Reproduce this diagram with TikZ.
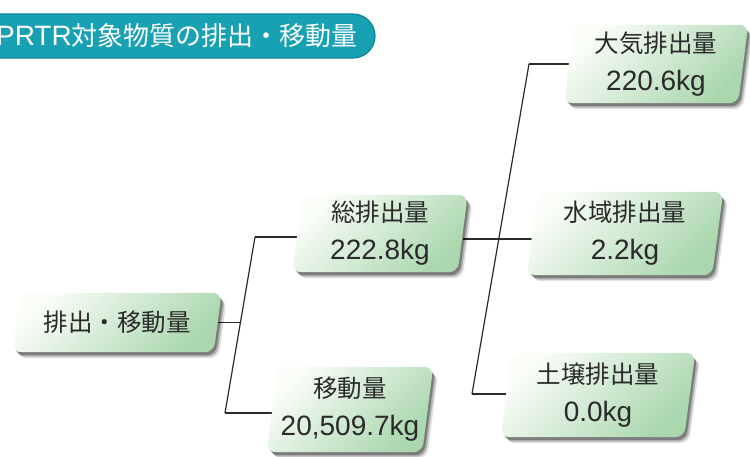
\documentclass[tikz,border=0pt]{standalone}
\usepackage{fontspec}
\newfontfamily\jp{Noto Sans CJK JP}
\newfontfamily\lat{Liberation Sans}
\usetikzlibrary{calc,shadows}
\definecolor{teal1}{HTML}{18A0B3}
\definecolor{teal2}{HTML}{0B8597}
\definecolor{boxg}{HTML}{AAD7AE}
\definecolor{boxw}{HTML}{FAFDF8}
\definecolor{txt}{HTML}{2A2A2A}
\definecolor{ln}{HTML}{2A2A2A}
\pgfdeclarelayer{bg}
\pgfdeclarelayer{mid}
\pgfsetlayers{bg,mid,main}
\newcommand\slbox[2]{%
  \path[boxshape] ($(#1.north west)+(#2,0)$) -- ($(#1.north east)+(#2,0)$)
    -- ($(#1.south east)-(#2,0)$) -- ($(#1.south west)-(#2,0)$) -- cycle;}
\newcommand\numf{\lat\fontsize{28}{38}\selectfont}
\begin{document}
\begin{tikzpicture}[x=1pt,y=-1pt,
  conn/.style={draw=ln, line width=1.2pt},
  txtnode/.style={font=\jp\fontsize{24.5}{38}\selectfont, text=txt, align=center, inner sep=0pt},
  boxshape/.style={rounded corners=9pt, top color=boxw, bottom color=boxg, shading angle=45,
    drop shadow={shadow xshift=5pt, shadow yshift=-6pt, opacity=0.12, fill=black},
    drop shadow={shadow xshift=3.5pt, shadow yshift=-4.5pt, opacity=0.2, fill=black},
    drop shadow={shadow xshift=2pt, shadow yshift=-3pt, opacity=0.3, fill=black}},
  ]
\useasboundingbox (0,0) rectangle (750,456);

% title banner
\fill[teal1, draw=teal2, line width=1.2pt, rounded corners=22pt] (-30,14) rectangle (375,58);
\node[font=\jp\fontsize{26}{30}\selectfont, text=white, anchor=east, inner sep=0pt] (title) at (358,36) {{\lat\fontsize{28}{30}\selectfont PRTR}対象物質の排出・移動量};

% nodes
\node[txtnode, minimum width=201pt, minimum height=59pt] (root) at (117,322.5) {排出・移動量};
\node[txtnode, minimum width=165pt, minimum height=77pt] (total) at (380,233.5) {総排出量\\{\numf 222.8kg}};
\node[txtnode, minimum width=155pt, minimum height=85pt] (move) at (350,409.5) {移動量\\{\numf 20,509.7kg}};
\node[txtnode, minimum width=174pt, minimum height=78pt] (air) at (656,64) {大気排出量\\{\numf 220.6kg}};
\node[txtnode, minimum width=185pt, minimum height=83pt] (water) at (625,233.5) {水域排出量\\{\numf 2.2kg}};
\node[txtnode, minimum width=183pt, minimum height=84pt] (soil) at (598,395) {土壌排出量\\{\numf 0.0kg}};

% junctions
\coordinate (j1t) at (255,237);
\coordinate (j1b) at (225,413);
\coordinate (j1m) at (240.4,322.5);
\coordinate (j2t) at (529,64);
\coordinate (j2b) at (472,394);
\coordinate (j2m) at (498.8,239);

\begin{pgfonlayer}{bg}
\fill[white] (0,0) rectangle (750,456);
\draw[conn] (j1t) -- (j1b);
\draw[conn] (root.east) -- (j1m);
\draw[conn] (j1t) -- (j1t -| total.west);
\draw[conn] (j1b) -- (j1b -| move.west);
\draw[conn] (j2t) -- (j2b);
\draw[conn] (j2m -| total.east) -- (j2m -| water.west);
\draw[conn] (j2t) -- (j2t -| air.west);
\draw[conn] (j2b) -- (j2b -| soil.west);
\end{pgfonlayer}

\begin{pgfonlayer}{mid}
\slbox{root}{4}
\slbox{total}{5}
\slbox{move}{5.5}
\slbox{air}{5}
\slbox{water}{5.5}
\slbox{soil}{5.5}
\end{pgfonlayer}
\end{tikzpicture}
\end{document}
